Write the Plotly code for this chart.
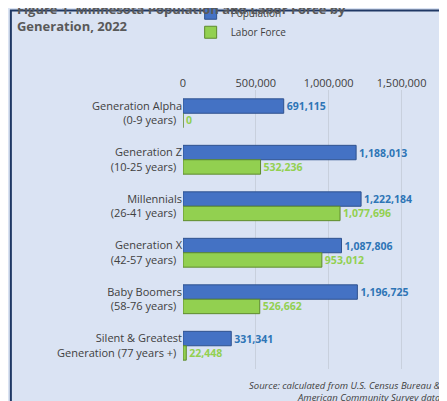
import plotly.graph_objects as go

categories = ["Generation Alpha<br>(0-9 years)", "Generation Z<br>(10-25 years)", "Millennials<br>(26-41 years)",
              "Generation X<br>(42-57 years)", "Baby Boomers<br>(58-76 years)", "Silent & Greatest<br>Generation (77 years +)"]
population = [691115, 1188013, 1222184, 1087806, 1196725, 331341]
labor_force = [0, 532236, 1077696, 953012, 526662, 22448]
tick_vals = [0, 500000, 1000000, 1500000]

fig = go.Figure()
fig.add_bar(y=categories, x=population, orientation="h", name="Population",
            marker=dict(color="#4472C4", line=dict(color="#2F528F", width=1)),
            text=[f"<b>{v:,}</b>" for v in population], textposition="outside",
            textfont=dict(color="#2E75B6", size=10.5, family="Open Sans"), cliponaxis=False)
fig.add_bar(y=categories, x=labor_force, orientation="h", name="Labor Force",
            marker=dict(color="#92D050", line=dict(color="#5E8A2E", width=1)),
            text=[f"<b>{v:,}</b>" for v in labor_force], textposition="outside",
            textfont=dict(color="#92D050", size=10.5, family="Open Sans"), cliponaxis=False)

fig.update_layout(
    width=447, height=401, autosize=False,
    paper_bgcolor="#DAE3F3", plot_bgcolor="#DAE3F3",
    margin=dict(l=175, r=17, t=82, b=40, autoexpand=False),
    barmode="group", bargap=0.38, bargroupgap=0,
    font=dict(family="Open Sans", color="#404040", size=11),
    title=dict(text="<b>Figure 1. Minnesota Population and Labor Force by<br>Generation, 2022</b>",
               x=0.02, xanchor="left", y=0.985, yanchor="top",
               font=dict(size=13, color="#595959", family="Open Sans")),
    legend=dict(orientation="h", x=0.03, xanchor="left", y=1.155, yanchor="bottom",
                font=dict(size=10, color="#404040"), bgcolor="rgba(0,0,0,0)",
                itemwidth=30, entrywidth=85, tracegroupgap=0),
    showlegend=True,
    xaxis=dict(side="top", range=[0, 1750000], tickvals=tick_vals, tickformat=",",
               showgrid=True, gridcolor="#C8D0DD", zeroline=False, tickfont=dict(size=11),
               automargin=False),
    yaxis=dict(autorange="reversed", tickfont=dict(size=11), ticksuffix="  ", automargin=False),
    annotations=[dict(text="<i>Source: calculated from U.S. Census Bureau &<br>American Community Survey data</i>",
                      xref="paper", yref="paper", x=1.02, y=-0.03, xanchor="right", yanchor="top",
                      align="right", showarrow=False, font=dict(size=9.5, color="#404040"))],
)
fig.add_shape(type="rect", xref="paper", yref="paper", x0=-0.675, x1=1.055, y0=-0.135, y1=1.285,
              line=dict(color="#1F3864", width=2))
fig.write_html("out.html", config={"responsive": False})
